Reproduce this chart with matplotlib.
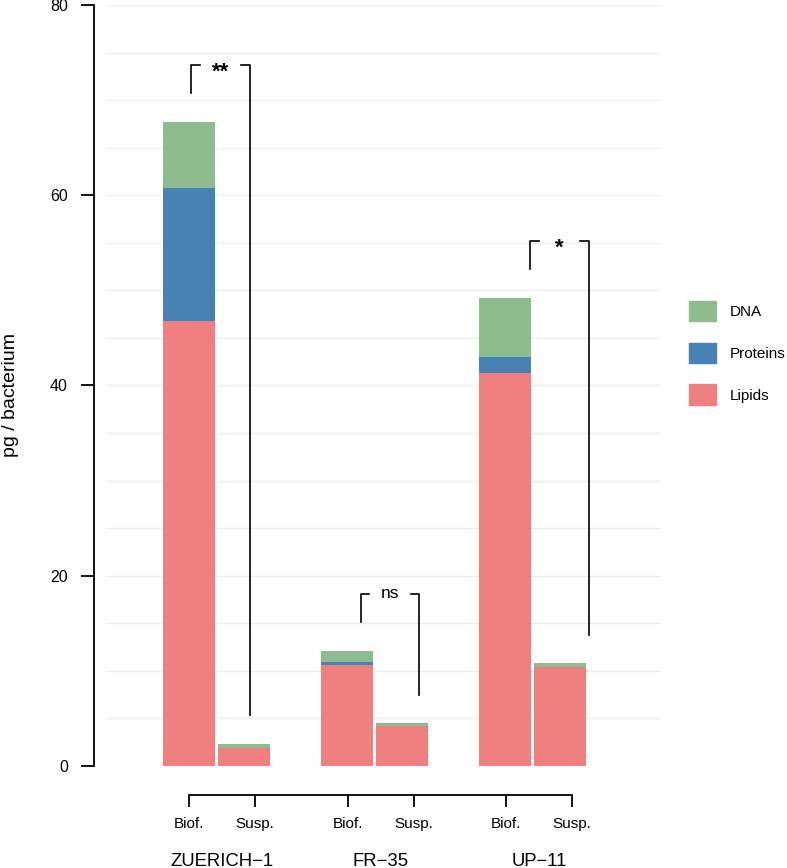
import numpy as np
import matplotlib.pyplot as plt
from matplotlib.patches import Patch
from matplotlib.transforms import blended_transform_factory, offset_copy

plt.rcParams['font.family'] = ['Liberation Sans', 'DejaVu Sans']

# data
strains = ['ZUERICH\u22121', 'FR\u221235', 'UP\u221211']
conditions = ['Biof.', 'Susp.']
lipids = [46.8, 1.86, 10.6, 4.2, 41.3, 10.4]
proteins = [14.0, 0.05, 0.3, 0.05, 1.7, 0.05]
dna = [6.9, 0.4, 1.2, 0.25, 6.2, 0.35]
signif = ['**', 'ns', '*']

col_lip = '#f08080'
col_prot = '#4682b4'
col_dna = '#8fbc8f'

lipids = np.array(lipids)
proteins = np.array(proteins)
dna = np.array(dna)
totals = lipids + proteins + dna

# layout (bar units)
grp = np.arange(len(strains))
xpos = np.ravel(np.column_stack([grp * 3.04, grp * 3.04 + 1.06]))
xticks = np.ravel(np.column_stack([grp * 3.05, grp * 3.05 + 1.27]))
br_left = grp * 3.26 + 0.04
br_right = br_left + 1.13

fig = plt.figure(figsize=(7.87, 8.68), dpi=100)
ax = fig.add_axes([107/787, 1 - 766/868, (660-107)/787, (766-5)/868])

ax.bar(xpos, lipids, width=1.0, color=col_lip, label='Lipids', zorder=2)
ax.bar(xpos, proteins, width=1.0, bottom=lipids, color=col_prot, label='Proteins', zorder=2)
ax.bar(xpos, dna, width=1.0, bottom=lipids + proteins, color=col_dna, label='DNA', zorder=2)

ax.set_xlim(-1.577, 9.058)
ax.set_ylim(0, 80)

# faint grid every 5
ax.set_yticks(np.arange(0, 81, 5), minor=True)
ax.yaxis.grid(True, which='both', color='#eeeeee', lw=1.0)
ax.set_axisbelow(True)

# significance brackets
for i in range(len(strains)):
    hb = totals[2*i] + 3
    hs = totals[2*i+1] + 3
    top = max(totals[2*i], totals[2*i+1]) + 6
    l, r = br_left[i], br_right[i]
    ax.plot([l, l, l + 0.17], [hb, top, top], color='black', lw=1.2, zorder=3)
    ax.plot([r - 0.17, r, r], [top, top, hs], color='black', lw=1.2, zorder=3)
    if '*' in signif[i]:
        tr = offset_copy(ax.transData, fig=fig, y=-9.5, units='points')
        ax.text((l + r) / 2, top, signif[i], ha='center', va='baseline',
                fontsize=16, fontweight='bold', transform=tr)
    else:
        tr = offset_copy(ax.transData, fig=fig, y=-3.3, units='points')
        ax.text((l + r) / 2, top, signif[i], ha='center', va='baseline',
                fontsize=12.5, transform=tr)

# axes styling
for s in ['top', 'right']:
    ax.spines[s].set_visible(False)
ax.spines['left'].set_position(('outward', 9.4))
ax.spines['left'].set_bounds(0, 80)
ax.spines['left'].set_linewidth(1.3)
ax.spines['bottom'].set_position(('outward', 20.9))
ax.spines['bottom'].set_bounds(xticks[0], xticks[-1])
ax.spines['bottom'].set_linewidth(1.3)

ax.set_yticks([0, 20, 40, 60, 80])
ax.tick_params(axis='y', which='major', length=9.4, width=1.3, pad=9.4, labelsize=11.5)
ax.tick_params(axis='y', which='minor', length=0)
ax.set_xticks(xticks)
ax.set_xticklabels(conditions * len(strains))
ax.tick_params(axis='x', length=8.6, width=1.3, pad=7, labelsize=11)

lab_tr = blended_transform_factory(ax.transData, fig.transFigure)
for i, name in enumerate(strains):
    xc = (xticks[2*i] + xticks[2*i+1]) / 2
    ax.text(xc, (868 - 865.5) / 868, name, ha='center', va='baseline', fontsize=13.3,
            transform=lab_tr)

fig.text(11/787, 1 - 395/868, 'pg / bacterium', rotation=90, ha='center', va='center', fontsize=14)

handles = [Patch(color=col_dna), Patch(color=col_prot), Patch(color=col_lip)]
fig.legend(handles, ['DNA', 'Proteins', 'Lipids'], loc='upper left',
           bbox_to_anchor=(689/787, 1 - 300.7/868), frameon=False, fontsize=11,
           handlelength=1.77, handleheight=1.7, handletextpad=0.9,
           labelspacing=1.39, borderpad=0, borderaxespad=0)

fig.savefig('out.png', dpi=100)
